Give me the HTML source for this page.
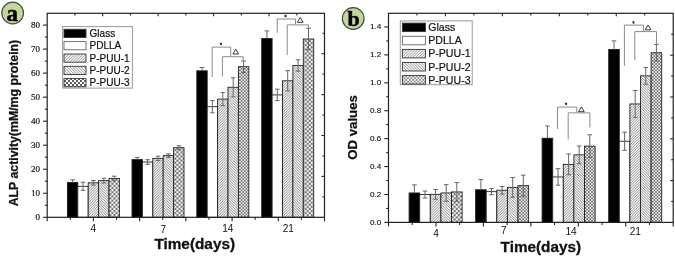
<!DOCTYPE html><html><head><meta charset="utf-8"><style>html,body{margin:0;padding:0;background:#fff;}#wrap{position:relative;width:675px;height:257px;overflow:hidden;background:#fff;}#wrap svg{position:absolute;left:0;top:0;display:block;}#main{filter:grayscale(1);}</style></head><body><div id="wrap">
<svg width="675" height="257" viewBox="0 0 675 257"><circle cx="12.65" cy="13" r="10.85" fill="#c3d79b" stroke="#46463a" stroke-width="1.15"/><circle cx="353.2" cy="18.5" r="10.85" fill="#c3d79b" stroke="#46463a" stroke-width="1.15"/></svg>
<svg id="main" width="675" height="257" viewBox="0 0 675 257"><defs>
<pattern id="h1" patternUnits="userSpaceOnUse" width="3" height="3">
 <rect width="3" height="3" fill="#fff"/>
 <path d="M-0.75,0.75 L0.75,-0.75 M0,3 L3,0 M2.25,3.75 L3.75,2.25" stroke="#555" stroke-width="0.9"/>
</pattern>
<pattern id="h2" patternUnits="userSpaceOnUse" width="3" height="3">
 <rect width="3" height="3" fill="#fff"/>
 <path d="M-0.75,2.25 L0.75,3.75 M0,0 L3,3 M2.25,-0.75 L3.75,0.75" stroke="#555" stroke-width="0.9"/>
</pattern>
<pattern id="h1b" patternUnits="userSpaceOnUse" width="2.6" height="2.6">
 <rect width="2.6" height="2.6" fill="#fff"/>
 <path d="M-0.65,0.65 L0.65,-0.65 M0,2.6 L2.6,0 M1.95,3.25 L3.25,1.95" stroke="#5a5a5a" stroke-width="0.75"/>
</pattern>
<pattern id="h2b" patternUnits="userSpaceOnUse" width="2.6" height="2.6">
 <rect width="2.6" height="2.6" fill="#fff"/>
 <path d="M-0.65,1.95 L0.65,3.25 M0,0 L2.6,2.6 M1.95,-0.65 L3.25,0.65" stroke="#5a5a5a" stroke-width="0.75"/>
</pattern>
<pattern id="s1" patternUnits="userSpaceOnUse" width="2.8" height="2.8">
 <rect width="2.8" height="2.8" fill="#fff"/>
 <path d="M-0.7,0.7 L0.7,-0.7 M0,2.8 L2.8,0 M2.1,3.5 L3.5,2.1" stroke="#666" stroke-width="0.75"/>
</pattern>
<pattern id="s2" patternUnits="userSpaceOnUse" width="2.8" height="2.8">
 <rect width="2.8" height="2.8" fill="#fff"/>
 <path d="M-0.7,2.1 L0.7,3.5 M0,0 L2.8,2.8 M2.1,-0.7 L3.5,0.7" stroke="#666" stroke-width="0.75"/>
</pattern>
<pattern id="h3" patternUnits="userSpaceOnUse" width="4.2" height="4.2">
 <rect width="4.2" height="4.2" fill="#fff"/>
 <path d="M-0.5,-0.5 L4.7,4.7" stroke="#000" stroke-opacity="0.58" stroke-width="0.9"/><path d="M-0.5,4.7 L4.7,-0.5" stroke="#000" stroke-opacity="0.58" stroke-width="0.9"/>
</pattern>
<pattern id="x3l" patternUnits="userSpaceOnUse" width="3.4" height="3.4">
 <rect width="3.4" height="3.4" fill="#fff"/>
 <path d="M-0.5,-0.5 L3.9,3.9" stroke="#000" stroke-opacity="0.55" stroke-width="0.75"/><path d="M-0.5,3.9 L3.9,-0.5" stroke="#000" stroke-opacity="0.55" stroke-width="0.75"/>
</pattern>
<pattern id="x3b" patternUnits="userSpaceOnUse" width="3.2" height="3.2">
 <rect width="3.2" height="3.2" fill="#fff"/>
 <path d="M-0.5,-0.5 L3.7,3.7" stroke="#000" stroke-opacity="0.62" stroke-width="0.8"/><path d="M-0.5,3.7 L3.7,-0.5" stroke="#000" stroke-opacity="0.62" stroke-width="0.8"/>
</pattern>
<pattern id="c3b" patternUnits="userSpaceOnUse" width="4.2" height="4.2">
 <rect width="4.2" height="4.2" fill="#fff"/>
 <rect x="0" y="0" width="2.1" height="2.1" fill="#6e6e6e"/><rect x="2.1" y="2.1" width="2.1" height="2.1" fill="#6e6e6e"/>
</pattern>
<pattern id="c3" patternUnits="userSpaceOnUse" width="4" height="4">
 <rect width="4" height="4" fill="#fff"/>
 <rect x="0" y="0" width="2" height="2" fill="#5e5e5e"/><rect x="2" y="2" width="2" height="2" fill="#5e5e5e"/>
</pattern>
</defs>
<rect x="67.4" y="182.4" width="10.4" height="34.9" fill="#000" stroke="#222" stroke-width="0.9"/>
<rect x="77.8" y="186.3" width="10.4" height="31" fill="#fff" stroke="#222" stroke-width="0.9"/>
<rect x="88.2" y="182.8" width="10.4" height="34.5" fill="url(#h1b)" stroke="#222" stroke-width="0.9"/>
<rect x="98.6" y="180.6" width="10.4" height="36.7" fill="url(#h2b)" stroke="#222" stroke-width="0.9"/>
<rect x="109" y="178.5" width="10.4" height="38.8" fill="url(#c3b)" stroke="#222" stroke-width="0.9"/>
<path d="M72.6,179.8V182.4M70.3,179.8H74.9" stroke="#666" stroke-width="1" fill="none"/>
<path d="M83,182.3V190.3M80.7,182.3H85.3M80.7,190.3H85.3" stroke="#666" stroke-width="1" fill="none"/>
<path d="M93.4,180.5V185.1M91.1,180.5H95.7M91.1,185.1H95.7" stroke="#666" stroke-width="1" fill="none"/>
<path d="M103.8,178.2V183M101.5,178.2H106.1M101.5,183H106.1" stroke="#666" stroke-width="1" fill="none"/>
<path d="M114.2,176.2V180.8M111.9,176.2H116.5M111.9,180.8H116.5" stroke="#666" stroke-width="1" fill="none"/>
<rect x="132" y="159.6" width="10.4" height="57.7" fill="#000" stroke="#222" stroke-width="0.9"/>
<rect x="142.4" y="162" width="10.4" height="55.3" fill="#fff" stroke="#222" stroke-width="0.9"/>
<rect x="152.8" y="158.4" width="10.4" height="58.9" fill="url(#h1b)" stroke="#222" stroke-width="0.9"/>
<rect x="163.2" y="155.6" width="10.4" height="61.7" fill="url(#h2b)" stroke="#222" stroke-width="0.9"/>
<rect x="173.6" y="147.7" width="10.4" height="69.6" fill="url(#c3b)" stroke="#222" stroke-width="0.9"/>
<path d="M137.2,157.4V159.6M134.9,157.4H139.5" stroke="#666" stroke-width="1" fill="none"/>
<path d="M147.6,159.7V164.3M145.3,159.7H149.9M145.3,164.3H149.9" stroke="#666" stroke-width="1" fill="none"/>
<path d="M158,156.2V160.6M155.7,156.2H160.3M155.7,160.6H160.3" stroke="#666" stroke-width="1" fill="none"/>
<path d="M168.4,153.9V157.3M166.1,153.9H170.7M166.1,157.3H170.7" stroke="#666" stroke-width="1" fill="none"/>
<path d="M178.8,145.7V149.7M176.5,145.7H181.1M176.5,149.7H181.1" stroke="#666" stroke-width="1" fill="none"/>
<rect x="196.8" y="70.8" width="10.4" height="146.5" fill="#000" stroke="#222" stroke-width="0.9"/>
<rect x="207.2" y="106.7" width="10.4" height="110.6" fill="#fff" stroke="#222" stroke-width="0.9"/>
<rect x="217.6" y="99.1" width="10.4" height="118.2" fill="url(#h1b)" stroke="#222" stroke-width="0.9"/>
<rect x="228" y="87.3" width="10.4" height="130" fill="url(#h2b)" stroke="#222" stroke-width="0.9"/>
<rect x="238.4" y="66.7" width="10.4" height="150.6" fill="url(#x3b)" stroke="#222" stroke-width="0.9"/>
<path d="M202,67.5V70.8M199.7,67.5H204.3" stroke="#666" stroke-width="1" fill="none"/>
<path d="M212.4,100.6V112.8M210.1,100.6H214.7M210.1,112.8H214.7" stroke="#666" stroke-width="1" fill="none"/>
<path d="M222.8,92.6V105.6M220.5,92.6H225.1M220.5,105.6H225.1" stroke="#666" stroke-width="1" fill="none"/>
<path d="M233.2,77.8V96.8M230.9,77.8H235.5M230.9,96.8H235.5" stroke="#666" stroke-width="1" fill="none"/>
<path d="M243.6,60.9V72.5M241.3,60.9H245.9M241.3,72.5H245.9" stroke="#666" stroke-width="1" fill="none"/>
<rect x="261.7" y="38.5" width="10.4" height="178.8" fill="#000" stroke="#222" stroke-width="0.9"/>
<rect x="272.1" y="94.9" width="10.4" height="122.4" fill="#fff" stroke="#222" stroke-width="0.9"/>
<rect x="282.5" y="80.8" width="10.4" height="136.5" fill="url(#h1b)" stroke="#222" stroke-width="0.9"/>
<rect x="292.9" y="65.5" width="10.4" height="151.8" fill="url(#h2b)" stroke="#222" stroke-width="0.9"/>
<rect x="303.3" y="39" width="10.4" height="178.3" fill="url(#c3b)" stroke="#222" stroke-width="0.9"/>
<path d="M266.9,30.9V38.5M264.6,30.9H269.2" stroke="#666" stroke-width="1" fill="none"/>
<path d="M277.3,89.2V100.6M275,89.2H279.6M275,100.6H279.6" stroke="#666" stroke-width="1" fill="none"/>
<path d="M287.7,70.7V90.9M285.4,70.7H290M285.4,90.9H290" stroke="#666" stroke-width="1" fill="none"/>
<path d="M298.1,59.8V71.2M295.8,59.8H300.4M295.8,71.2H300.4" stroke="#666" stroke-width="1" fill="none"/>
<path d="M308.5,28.3V49.7M306.2,28.3H310.8M306.2,49.7H310.8" stroke="#666" stroke-width="1" fill="none"/>
<path d="M212.2,77V47.1H230.7V56.3" stroke="#8a8a8a" stroke-width="1" fill="none"/>
<path d="M221,42.7V45.1M219.96,43.3L222.04,44.5M219.96,44.5L222.04,43.3" stroke="#222" stroke-width="0.95"/>
<path d="M222.4,76.5V56.7H243.2V59.9" stroke="#8a8a8a" stroke-width="1" fill="none"/>
<path d="M232.95,54L235.8,49.2L238.65,54Z" stroke="#222" stroke-width="0.9" fill="none"/>
<path d="M277.2,32.8V19H295.5V24.5" stroke="#8a8a8a" stroke-width="1" fill="none"/>
<path d="M285.5,14.8V17.2M284.46,15.4L286.54,16.6M284.46,16.6L286.54,15.4" stroke="#222" stroke-width="0.95"/>
<path d="M287.2,55V24.9H308.5V28" stroke="#8a8a8a" stroke-width="1" fill="none"/>
<path d="M297.35,22.3L300.2,17.5L303.05,22.3Z" stroke="#222" stroke-width="0.9" fill="none"/>
<rect x="47.2" y="13.3" width="277.3" height="204" fill="none" stroke="#222" stroke-width="1.2"/>
<path d="M43,217.3H47.2" stroke="#222" stroke-width="1.1"/>
<path d="M44.9,205.29H47.2" stroke="#222" stroke-width="1.1"/>
<path d="M43,193.27H47.2" stroke="#222" stroke-width="1.1"/>
<path d="M44.9,181.25H47.2" stroke="#222" stroke-width="1.1"/>
<path d="M43,169.24H47.2" stroke="#222" stroke-width="1.1"/>
<path d="M44.9,157.23H47.2" stroke="#222" stroke-width="1.1"/>
<path d="M43,145.21H47.2" stroke="#222" stroke-width="1.1"/>
<path d="M44.9,133.19H47.2" stroke="#222" stroke-width="1.1"/>
<path d="M43,121.18H47.2" stroke="#222" stroke-width="1.1"/>
<path d="M44.9,109.17H47.2" stroke="#222" stroke-width="1.1"/>
<path d="M43,97.15H47.2" stroke="#222" stroke-width="1.1"/>
<path d="M44.9,85.14H47.2" stroke="#222" stroke-width="1.1"/>
<path d="M43,73.12H47.2" stroke="#222" stroke-width="1.1"/>
<path d="M44.9,61.11H47.2" stroke="#222" stroke-width="1.1"/>
<path d="M43,49.09H47.2" stroke="#222" stroke-width="1.1"/>
<path d="M44.9,37.08H47.2" stroke="#222" stroke-width="1.1"/>
<path d="M43,25.06H47.2" stroke="#222" stroke-width="1.1"/>
<path d="M322.5,196.85H324.5" stroke="#222" stroke-width="1.1"/>
<path d="M321.5,176.4H324.5" stroke="#222" stroke-width="1.1"/>
<path d="M322.5,155.95H324.5" stroke="#222" stroke-width="1.1"/>
<path d="M321.5,135.5H324.5" stroke="#222" stroke-width="1.1"/>
<path d="M322.5,115.05H324.5" stroke="#222" stroke-width="1.1"/>
<path d="M321.5,94.6H324.5" stroke="#222" stroke-width="1.1"/>
<path d="M322.5,74.15H324.5" stroke="#222" stroke-width="1.1"/>
<path d="M321.5,53.7H324.5" stroke="#222" stroke-width="1.1"/>
<path d="M322.5,33.25H324.5" stroke="#222" stroke-width="1.1"/>
<path d="M47.2,217.3V221.3" stroke="#222" stroke-width="1.1"/>
<path d="M70.31,217.3V219.8" stroke="#222" stroke-width="1.1"/>
<path d="M93.42,217.3V221.3" stroke="#222" stroke-width="1.1"/>
<path d="M116.53,217.3V219.8" stroke="#222" stroke-width="1.1"/>
<path d="M139.63,217.3V221.3" stroke="#222" stroke-width="1.1"/>
<path d="M162.74,217.3V219.8" stroke="#222" stroke-width="1.1"/>
<path d="M185.85,217.3V221.3" stroke="#222" stroke-width="1.1"/>
<path d="M208.96,217.3V219.8" stroke="#222" stroke-width="1.1"/>
<path d="M232.07,217.3V221.3" stroke="#222" stroke-width="1.1"/>
<path d="M255.18,217.3V219.8" stroke="#222" stroke-width="1.1"/>
<path d="M278.28,217.3V221.3" stroke="#222" stroke-width="1.1"/>
<path d="M301.39,217.3V219.8" stroke="#222" stroke-width="1.1"/>
<path d="M324.5,217.3V221.3" stroke="#222" stroke-width="1.1"/>
<path d="M74.93,13.3V15.5" stroke="#222" stroke-width="1.1"/>
<path d="M102.66,13.3V16.3" stroke="#222" stroke-width="1.1"/>
<path d="M130.39,13.3V15.5" stroke="#222" stroke-width="1.1"/>
<path d="M158.12,13.3V16.3" stroke="#222" stroke-width="1.1"/>
<path d="M185.85,13.3V15.5" stroke="#222" stroke-width="1.1"/>
<path d="M213.58,13.3V16.3" stroke="#222" stroke-width="1.1"/>
<path d="M241.31,13.3V15.5" stroke="#222" stroke-width="1.1"/>
<path d="M269.04,13.3V16.3" stroke="#222" stroke-width="1.1"/>
<path d="M296.77,13.3V15.5" stroke="#222" stroke-width="1.1"/>
<text x="39.9" y="219.75" font-family="Liberation Serif" font-size="9" text-anchor="end" fill="#111" stroke="#111" stroke-width="0.18">0</text>
<text x="39.9" y="195.72" font-family="Liberation Serif" font-size="9" text-anchor="end" fill="#111" stroke="#111" stroke-width="0.18">10</text>
<text x="39.9" y="171.69" font-family="Liberation Serif" font-size="9" text-anchor="end" fill="#111" stroke="#111" stroke-width="0.18">20</text>
<text x="39.9" y="147.66" font-family="Liberation Serif" font-size="9" text-anchor="end" fill="#111" stroke="#111" stroke-width="0.18">30</text>
<text x="39.9" y="123.63" font-family="Liberation Serif" font-size="9" text-anchor="end" fill="#111" stroke="#111" stroke-width="0.18">40</text>
<text x="39.9" y="99.6" font-family="Liberation Serif" font-size="9" text-anchor="end" fill="#111" stroke="#111" stroke-width="0.18">50</text>
<text x="39.9" y="75.57" font-family="Liberation Serif" font-size="9" text-anchor="end" fill="#111" stroke="#111" stroke-width="0.18">60</text>
<text x="39.9" y="51.54" font-family="Liberation Serif" font-size="9" text-anchor="end" fill="#111" stroke="#111" stroke-width="0.18">70</text>
<text x="39.9" y="27.51" font-family="Liberation Serif" font-size="9" text-anchor="end" fill="#111" stroke="#111" stroke-width="0.18">80</text>
<text x="93.4" y="232" font-family="Liberation Sans" font-size="10.1" text-anchor="middle" fill="#111">4</text>
<text x="163.3" y="232.6" font-family="Liberation Sans" font-size="10.1" text-anchor="middle" fill="#111">7</text>
<text x="227.8" y="232" font-family="Liberation Sans" font-size="10.1" text-anchor="middle" fill="#111">14</text>
<text x="288.3" y="232" font-family="Liberation Sans" font-size="10.1" text-anchor="middle" fill="#111">21</text>
<rect x="62.6" y="26.6" width="69.8" height="61.5" fill="#fff" stroke="#999" stroke-width="1"/>
<rect x="64" y="29.3" width="22" height="8.2" fill="#000" stroke="#333" stroke-width="0.9"/>
<text x="89.6" y="37" font-family="Liberation Sans" font-size="10" fill="#111" stroke="#111" stroke-width="0.2">Glass</text>
<rect x="64" y="41.6" width="22" height="8.2" fill="#fff" stroke="#666" stroke-width="0.9"/>
<text x="89.6" y="49.3" font-family="Liberation Sans" font-size="10" fill="#111" stroke="#111" stroke-width="0.2">PDLLA</text>
<rect x="64" y="54" width="22" height="8.2" fill="url(#s1)" stroke="#333" stroke-width="0.9"/>
<text x="89.6" y="61.7" font-family="Liberation Sans" font-size="10" fill="#111" stroke="#111" stroke-width="0.2">P-PUU-1</text>
<rect x="64" y="66.3" width="22" height="8.2" fill="url(#s2)" stroke="#333" stroke-width="0.9"/>
<text x="89.6" y="74" font-family="Liberation Sans" font-size="10" fill="#111" stroke="#111" stroke-width="0.2">P-PUU-2</text>
<rect x="64" y="78.6" width="22" height="8.2" fill="url(#c3)" stroke="#333" stroke-width="0.9"/>
<text x="89.6" y="86.3" font-family="Liberation Sans" font-size="10" fill="#111" stroke="#111" stroke-width="0.2">P-PUU-3</text>
<text x="0" y="0" font-family="Liberation Sans" font-weight="bold" font-size="15.5" fill="#111" stroke="#111" stroke-width="0.3" transform="translate(154.4,249) scale(0.99,1) translate(0,0)">Time(days)</text>
<text x="0" y="0" font-family="Liberation Sans" font-weight="bold" font-size="12.3" fill="#111" stroke="#111" stroke-width="0.25" transform="translate(17.6,206.3) rotate(-90) scale(1,1)">ALP activity(mM/mg protein)</text>
<text x="12.3" y="20.9" font-family="Liberation Serif" font-weight="bold" font-size="23" text-anchor="middle" fill="#000" stroke="#000" stroke-width="0.5">a</text>
<rect x="409.1" y="192.95" width="10.6" height="29.45" fill="#000" stroke="#222" stroke-width="0.9"/>
<rect x="419.7" y="194.55" width="10.6" height="27.85" fill="#fff" stroke="#222" stroke-width="0.9"/>
<rect x="430.3" y="194.35" width="10.6" height="28.05" fill="url(#h1b)" stroke="#222" stroke-width="0.9"/>
<rect x="440.9" y="192.95" width="10.6" height="29.45" fill="url(#h2b)" stroke="#222" stroke-width="0.9"/>
<rect x="451.5" y="191.95" width="10.6" height="30.45" fill="url(#c3b)" stroke="#222" stroke-width="0.9"/>
<path d="M414.4,184.88V192.95M412.1,184.88H416.7" stroke="#666" stroke-width="1" fill="none"/>
<path d="M425,191.08V198.02M422.7,191.08H427.3M422.7,198.02H427.3" stroke="#666" stroke-width="1" fill="none"/>
<path d="M435.6,189.48V199.22M433.3,189.48H437.9M433.3,199.22H437.9" stroke="#666" stroke-width="1" fill="none"/>
<path d="M446.2,184.68V201.22M443.9,184.68H448.5M443.9,201.22H448.5" stroke="#666" stroke-width="1" fill="none"/>
<path d="M456.8,182.58V201.32M454.5,182.58H459.1M454.5,201.32H459.1" stroke="#666" stroke-width="1" fill="none"/>
<rect x="475.6" y="189.75" width="10.6" height="32.65" fill="#000" stroke="#222" stroke-width="0.9"/>
<rect x="486.2" y="191.65" width="10.6" height="30.75" fill="#fff" stroke="#222" stroke-width="0.9"/>
<rect x="496.8" y="190.25" width="10.6" height="32.15" fill="url(#h1b)" stroke="#222" stroke-width="0.9"/>
<rect x="507.4" y="187.35" width="10.6" height="35.05" fill="url(#h2b)" stroke="#222" stroke-width="0.9"/>
<rect x="518" y="185.65" width="10.6" height="36.75" fill="url(#x3b)" stroke="#222" stroke-width="0.9"/>
<path d="M480.9,179.58V189.75M478.6,179.58H483.2" stroke="#666" stroke-width="1" fill="none"/>
<path d="M491.5,188.58V194.72M489.2,188.58H493.8M489.2,194.72H493.8" stroke="#666" stroke-width="1" fill="none"/>
<path d="M502.1,186.48V194.02M499.8,186.48H504.4M499.8,194.02H504.4" stroke="#666" stroke-width="1" fill="none"/>
<path d="M512.7,177.48V197.22M510.4,177.48H515M510.4,197.22H515" stroke="#666" stroke-width="1" fill="none"/>
<path d="M523.3,175.18V196.12M521,175.18H525.6M521,196.12H525.6" stroke="#666" stroke-width="1" fill="none"/>
<rect x="542.1" y="138.25" width="10.6" height="84.15" fill="#000" stroke="#222" stroke-width="0.9"/>
<rect x="552.7" y="176.95" width="10.6" height="45.45" fill="#fff" stroke="#222" stroke-width="0.9"/>
<rect x="563.3" y="164.35" width="10.6" height="58.05" fill="url(#h1b)" stroke="#222" stroke-width="0.9"/>
<rect x="573.9" y="154.85" width="10.6" height="67.55" fill="url(#h2b)" stroke="#222" stroke-width="0.9"/>
<rect x="584.5" y="146.15" width="10.6" height="76.25" fill="url(#x3b)" stroke="#222" stroke-width="0.9"/>
<path d="M547.4,125.97V138.25M545.1,125.97H549.7" stroke="#666" stroke-width="1" fill="none"/>
<path d="M558,168.68V185.22M555.7,168.68H560.3M555.7,185.22H560.3" stroke="#666" stroke-width="1" fill="none"/>
<path d="M568.6,153.98V174.72M566.3,153.98H570.9M566.3,174.72H570.9" stroke="#666" stroke-width="1" fill="none"/>
<path d="M579.2,145.98V163.72M576.9,145.98H581.5M576.9,163.72H581.5" stroke="#666" stroke-width="1" fill="none"/>
<path d="M589.8,134.78V157.53M587.5,134.78H592.1M587.5,157.53H592.1" stroke="#666" stroke-width="1" fill="none"/>
<rect x="608.7" y="49.45" width="10.6" height="172.95" fill="#000" stroke="#222" stroke-width="0.9"/>
<rect x="619.3" y="141.25" width="10.6" height="81.15" fill="#fff" stroke="#222" stroke-width="0.9"/>
<rect x="629.9" y="103.95" width="10.6" height="118.45" fill="url(#h1b)" stroke="#222" stroke-width="0.9"/>
<rect x="640.5" y="75.85" width="10.6" height="146.55" fill="url(#h2b)" stroke="#222" stroke-width="0.9"/>
<rect x="651.1" y="52.75" width="10.6" height="169.65" fill="url(#x3b)" stroke="#222" stroke-width="0.9"/>
<path d="M614,40.88V49.45M611.7,40.88H616.3" stroke="#666" stroke-width="1" fill="none"/>
<path d="M624.6,132.18V150.32M622.3,132.18H626.9M622.3,150.32H626.9" stroke="#666" stroke-width="1" fill="none"/>
<path d="M635.2,90.47V117.42M632.9,90.47H637.5M632.9,117.42H637.5" stroke="#666" stroke-width="1" fill="none"/>
<path d="M645.8,67.47V84.22M643.5,67.47H648.1M643.5,84.22H648.1" stroke="#666" stroke-width="1" fill="none"/>
<path d="M656.4,44.38V61.12M654.1,44.38H658.7M654.1,61.12H658.7" stroke="#666" stroke-width="1" fill="none"/>
<path d="M557.5,129V107.1H576.8V112.5" stroke="#8a8a8a" stroke-width="1" fill="none"/>
<path d="M566.1,102.6V105M565.06,103.2L567.14,104.4M565.06,104.4L567.14,103.2" stroke="#222" stroke-width="0.95"/>
<path d="M568.2,139.4V112.9H589.9V127.5" stroke="#8a8a8a" stroke-width="1" fill="none"/>
<path d="M578.55,111.7L581.4,106.9L584.25,111.7Z" stroke="#222" stroke-width="0.9" fill="none"/>
<path d="M624.4,66V25.1H643.6V31.2" stroke="#8a8a8a" stroke-width="1" fill="none"/>
<path d="M633.5,21.2V23.6M632.46,21.8L634.54,23M632.46,23L634.54,21.8" stroke="#222" stroke-width="0.95"/>
<path d="M634.8,60.1V31.6H656.5V44.2" stroke="#8a8a8a" stroke-width="1" fill="none"/>
<path d="M645.25,29.8L648.1,25L650.95,29.8Z" stroke="#222" stroke-width="0.9" fill="none"/>
<rect x="388.5" y="13.3" width="284.7" height="209.1" fill="none" stroke="#222" stroke-width="1.2"/>
<path d="M384.3,222.4H388.5" stroke="#222" stroke-width="1.1"/>
<path d="M386.2,208.44H388.5" stroke="#222" stroke-width="1.1"/>
<path d="M384.3,194.48H388.5" stroke="#222" stroke-width="1.1"/>
<path d="M386.2,180.52H388.5" stroke="#222" stroke-width="1.1"/>
<path d="M384.3,166.56H388.5" stroke="#222" stroke-width="1.1"/>
<path d="M386.2,152.6H388.5" stroke="#222" stroke-width="1.1"/>
<path d="M384.3,138.64H388.5" stroke="#222" stroke-width="1.1"/>
<path d="M386.2,124.68H388.5" stroke="#222" stroke-width="1.1"/>
<path d="M384.3,110.72H388.5" stroke="#222" stroke-width="1.1"/>
<path d="M386.2,96.76H388.5" stroke="#222" stroke-width="1.1"/>
<path d="M384.3,82.8H388.5" stroke="#222" stroke-width="1.1"/>
<path d="M386.2,68.84H388.5" stroke="#222" stroke-width="1.1"/>
<path d="M384.3,54.88H388.5" stroke="#222" stroke-width="1.1"/>
<path d="M386.2,40.92H388.5" stroke="#222" stroke-width="1.1"/>
<path d="M384.3,26.96H388.5" stroke="#222" stroke-width="1.1"/>
<path d="M671.2,201.5H673.2" stroke="#222" stroke-width="1.1"/>
<path d="M670.2,180.6H673.2" stroke="#222" stroke-width="1.1"/>
<path d="M671.2,159.7H673.2" stroke="#222" stroke-width="1.1"/>
<path d="M670.2,138.8H673.2" stroke="#222" stroke-width="1.1"/>
<path d="M671.2,117.9H673.2" stroke="#222" stroke-width="1.1"/>
<path d="M670.2,97H673.2" stroke="#222" stroke-width="1.1"/>
<path d="M671.2,76.1H673.2" stroke="#222" stroke-width="1.1"/>
<path d="M670.2,55.2H673.2" stroke="#222" stroke-width="1.1"/>
<path d="M671.2,34.3H673.2" stroke="#222" stroke-width="1.1"/>
<path d="M388.5,222.4V226.4" stroke="#222" stroke-width="1.1"/>
<path d="M412.23,222.4V224.9" stroke="#222" stroke-width="1.1"/>
<path d="M435.95,222.4V226.4" stroke="#222" stroke-width="1.1"/>
<path d="M459.68,222.4V224.9" stroke="#222" stroke-width="1.1"/>
<path d="M483.4,222.4V226.4" stroke="#222" stroke-width="1.1"/>
<path d="M507.12,222.4V224.9" stroke="#222" stroke-width="1.1"/>
<path d="M530.85,222.4V226.4" stroke="#222" stroke-width="1.1"/>
<path d="M554.58,222.4V224.9" stroke="#222" stroke-width="1.1"/>
<path d="M578.3,222.4V226.4" stroke="#222" stroke-width="1.1"/>
<path d="M602.03,222.4V224.9" stroke="#222" stroke-width="1.1"/>
<path d="M625.75,222.4V226.4" stroke="#222" stroke-width="1.1"/>
<path d="M649.48,222.4V224.9" stroke="#222" stroke-width="1.1"/>
<path d="M673.2,222.4V226.4" stroke="#222" stroke-width="1.1"/>
<path d="M416.97,13.3V15.5" stroke="#222" stroke-width="1.1"/>
<path d="M445.44,13.3V16.3" stroke="#222" stroke-width="1.1"/>
<path d="M473.91,13.3V15.5" stroke="#222" stroke-width="1.1"/>
<path d="M502.38,13.3V16.3" stroke="#222" stroke-width="1.1"/>
<path d="M530.85,13.3V15.5" stroke="#222" stroke-width="1.1"/>
<path d="M559.32,13.3V16.3" stroke="#222" stroke-width="1.1"/>
<path d="M587.79,13.3V15.5" stroke="#222" stroke-width="1.1"/>
<path d="M616.26,13.3V16.3" stroke="#222" stroke-width="1.1"/>
<path d="M644.73,13.3V15.5" stroke="#222" stroke-width="1.1"/>
<text x="381.2" y="224.64" font-family="Liberation Sans" font-size="8.1" text-anchor="end" fill="#111" stroke="#111" stroke-width="0.12">0.0</text>
<text x="381.2" y="196.72" font-family="Liberation Sans" font-size="8.1" text-anchor="end" fill="#111" stroke="#111" stroke-width="0.12">0.2</text>
<text x="381.2" y="168.8" font-family="Liberation Sans" font-size="8.1" text-anchor="end" fill="#111" stroke="#111" stroke-width="0.12">0.4</text>
<text x="381.2" y="140.88" font-family="Liberation Sans" font-size="8.1" text-anchor="end" fill="#111" stroke="#111" stroke-width="0.12">0.6</text>
<text x="381.2" y="112.95" font-family="Liberation Sans" font-size="8.1" text-anchor="end" fill="#111" stroke="#111" stroke-width="0.12">0.8</text>
<text x="381.2" y="85.04" font-family="Liberation Sans" font-size="8.1" text-anchor="end" fill="#111" stroke="#111" stroke-width="0.12">1.0</text>
<text x="381.2" y="57.11" font-family="Liberation Sans" font-size="8.1" text-anchor="end" fill="#111" stroke="#111" stroke-width="0.12">1.2</text>
<text x="381.2" y="29.2" font-family="Liberation Sans" font-size="8.1" text-anchor="end" fill="#111" stroke="#111" stroke-width="0.12">1.4</text>
<text x="436.1" y="236.9" font-family="Liberation Sans" font-size="10.1" text-anchor="middle" fill="#111">4</text>
<text x="503.9" y="234.4" font-family="Liberation Sans" font-size="10.1" text-anchor="middle" fill="#111">7</text>
<text x="571" y="235.4" font-family="Liberation Sans" font-size="10.1" text-anchor="middle" fill="#111">14</text>
<text x="635.3" y="235.2" font-family="Liberation Sans" font-size="10.1" text-anchor="middle" fill="#111">21</text>
<rect x="400.3" y="20.9" width="71.9" height="63.8" fill="#fff" stroke="#999" stroke-width="1"/>
<rect x="402.4" y="23.1" width="23" height="8.5" fill="#000" stroke="#333" stroke-width="0.9"/>
<text x="428.2" y="31.17" font-family="Liberation Sans" font-size="10.6" fill="#111" stroke="#111" stroke-width="0.2">Glass</text>
<rect x="402.4" y="36.3" width="23" height="8.5" fill="#fff" stroke="#666" stroke-width="0.9"/>
<text x="428.2" y="44.37" font-family="Liberation Sans" font-size="10.6" fill="#111" stroke="#111" stroke-width="0.2">PDLLA</text>
<rect x="402.4" y="49.4" width="23" height="8.5" fill="url(#s1)" stroke="#333" stroke-width="0.9"/>
<text x="428.2" y="57.47" font-family="Liberation Sans" font-size="10.6" fill="#111" stroke="#111" stroke-width="0.2">P-PUU-1</text>
<rect x="402.4" y="62.5" width="23" height="8.5" fill="url(#s2)" stroke="#333" stroke-width="0.9"/>
<text x="428.2" y="70.57" font-family="Liberation Sans" font-size="10.6" fill="#111" stroke="#111" stroke-width="0.2">P-PUU-2</text>
<rect x="402.4" y="75.6" width="23" height="8.5" fill="url(#x3l)" stroke="#333" stroke-width="0.9"/>
<text x="428.2" y="83.67" font-family="Liberation Sans" font-size="10.6" fill="#111" stroke="#111" stroke-width="0.2">P-PUU-3</text>
<text x="0" y="0" font-family="Liberation Sans" font-weight="bold" font-size="15.3" fill="#111" stroke="#111" stroke-width="0.3" transform="translate(500.6,251.9) scale(1,1) translate(0,0)">Time(days)</text>
<text x="0" y="0" font-family="Liberation Sans" font-weight="bold" font-size="13.2" fill="#111" stroke="#111" stroke-width="0.25" transform="translate(357.4,159.7) rotate(-90) scale(1,1)">OD values</text>
<text x="353.6" y="26.2" font-family="Liberation Serif" font-weight="bold" font-size="22" text-anchor="middle" fill="#000" stroke="#000" stroke-width="0.5">b</text>
</svg>
</div></body></html>
